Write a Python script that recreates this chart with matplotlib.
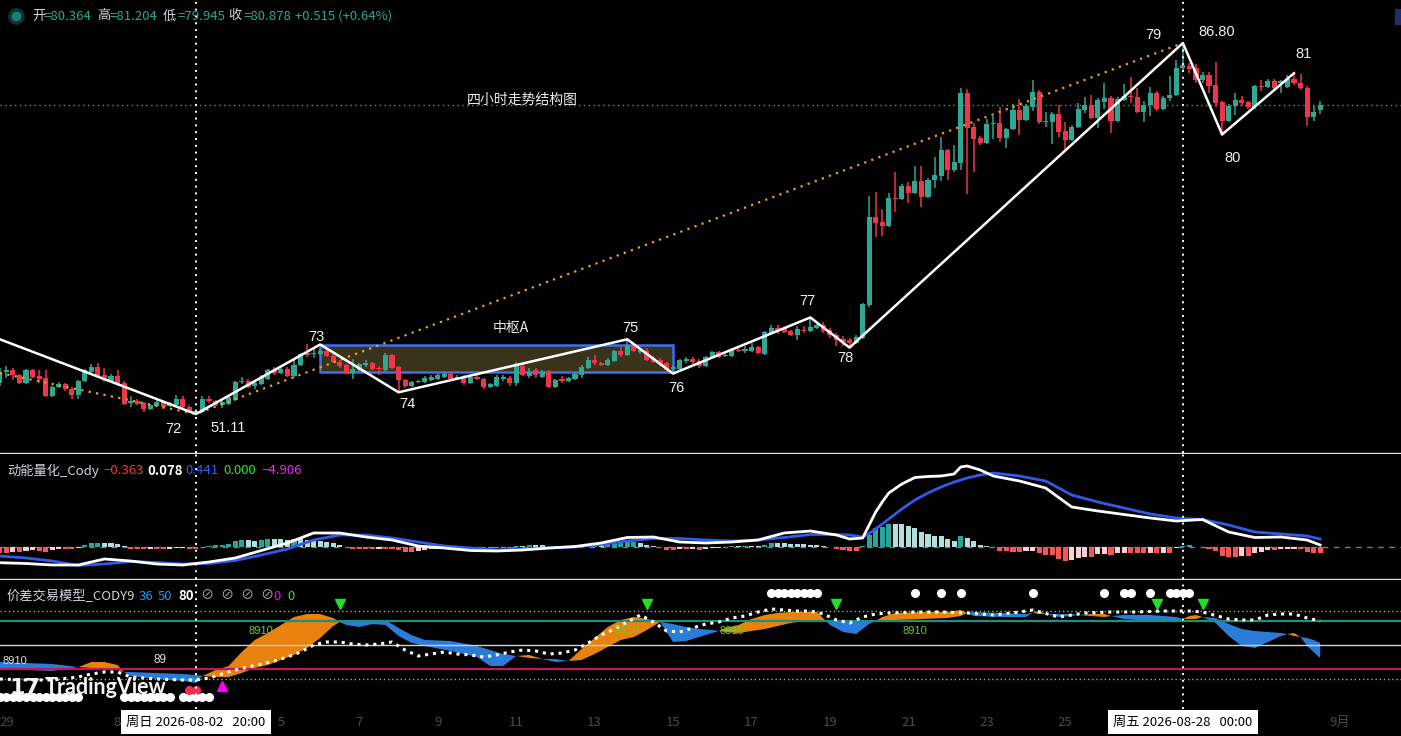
import numpy as np
import matplotlib
matplotlib.use("Agg")
import matplotlib.pyplot as plt
from matplotlib.patches import Rectangle

plt.rcParams['font.family'] = ['Noto Sans CJK SC', 'DejaVu Sans']

# 4h bars, bar 0 = 2026-07-29 00:00, first bar on screen is -1
first_bar = -1
opens = [54.1, 55.2, 55.3, 54.9, 54.1, 55.3, 54.8, 54.6, 52.8, 53.7,
         54.0, 53.5, 52.9, 54.3, 55.2, 55.6, 54.9, 54.3, 54.8, 54.1,
         52.2, 52.4, 52.2, 51.6, 51.9, 52.3, 51.9, 52.0, 52.6, 51.8,
         51.3, 51.3, 52.6, 52.4, 52.0, 52.1, 52.5, 54.2, 54.3, 53.8,
         54.0, 54.5, 55.3, 55.1, 55.4, 54.8, 55.8, 57.0, 56.9, 56.9,
         57.2, 56.7, 56.1, 55.8, 55.1, 55.3, 55.8, 56.0, 55.5, 55.3,
         56.8, 55.6, 54.4, 53.8, 54.2, 54.2, 54.4, 54.5, 54.7, 55.0,
         54.5, 54.7, 54.1, 54.7, 54.5, 53.7, 53.8, 54.5, 54.6, 54.1,
         55.7, 54.8, 55.3, 54.7, 55.2, 53.7, 54.5, 54.3, 54.5, 54.9,
         55.5, 56.3, 56.0, 55.8, 56.2, 57.2, 56.8, 57.7, 57.1, 57.2,
         56.5, 56.3, 56.0, 55.4, 55.4, 56.2, 56.4, 56.2, 55.7, 56.6,
         57.1, 56.7, 56.7, 57.3, 57.2, 57.2, 57.6, 56.9, 58.9, 59.4,
         59.4, 59.1, 58.7, 59.2, 59.1, 59.4, 59.7, 59.2, 58.7, 58.3,
         58.2, 57.9, 58.4, 61.6, 70.1, 69.6, 69.2, 71.9, 71.8, 73.0,
         72.4, 73.5, 72.0, 73.6, 74.0, 76.5, 74.6, 75.3, 82.0, 78.7,
         77.7, 77.2, 79.0, 79.1, 77.7, 78.5, 80.4, 79.4, 80.6, 82.1,
         79.2, 79.2, 80.0, 78.3, 77.5, 78.7, 80.4, 80.8, 79.6, 81.1,
         81.5, 79.3, 81.3, 81.7, 81.6, 80.2, 80.8, 82.0, 80.5, 81.5,
         81.8, 84.4, 84.6, 84.4, 83.2, 83.7, 82.8, 81.1, 79.3, 80.7,
         81.3, 81.1, 80.6, 82.7, 82.6, 83.1, 83.0, 82.6, 83.3, 83.0,
         82.5, 79.7, 80.364]
highs = [55.5, 55.7, 55.5, 55.0, 55.4, 55.4, 55.3, 55.3, 53.8, 54.2,
         54.1, 53.7, 54.4, 55.4, 55.9, 56.0, 55.5, 55.0, 55.3, 54.3,
         52.8, 52.6, 52.3, 52.1, 52.5, 52.5, 52.3, 52.9, 52.8, 52.0,
         51.6, 52.8, 52.8, 52.5, 52.6, 52.8, 54.3, 54.7, 54.5, 54.2,
         54.9, 55.4, 55.6, 55.5, 55.6, 56.3, 57.0, 57.8, 57.5, 57.4,
         57.5, 56.9, 56.3, 55.9, 56.4, 56.0, 56.3, 56.1, 55.7, 57.0,
         56.9, 55.7, 54.5, 54.3, 54.4, 54.8, 54.9, 55.1, 55.2, 55.2,
         54.9, 54.9, 54.9, 54.9, 54.6, 54.1, 54.9, 54.9, 54.8, 56.1,
         55.9, 55.5, 55.5, 55.3, 55.3, 54.5, 54.8, 54.7, 55.2, 55.8,
         56.6, 56.8, 56.1, 56.5, 57.3, 57.6, 58.3, 57.9, 57.5, 57.5,
         56.7, 56.5, 56.1, 55.8, 56.4, 56.6, 56.6, 56.4, 56.7, 57.2,
         57.2, 57.0, 57.5, 57.5, 57.7, 57.9, 57.7, 59.1, 59.7, 59.7,
         59.5, 59.2, 59.6, 59.6, 60.4, 59.9, 60.0, 59.4, 58.9, 58.6,
         58.4, 58.7, 61.8, 72.1, 72.5, 70.8, 72.4, 74.4, 73.2, 73.4,
         75.0, 75.0, 73.8, 75.8, 77.8, 76.6, 77.0, 82.5, 82.4, 79.1,
         77.9, 79.5, 79.8, 80.6, 78.6, 80.9, 81.4, 80.9, 83.2, 82.3,
         80.2, 80.2, 80.8, 79.2, 78.9, 81.0, 81.6, 81.8, 81.5, 83.0,
         81.7, 81.6, 82.9, 83.5, 82.5, 81.2, 82.6, 82.2, 81.7, 83.6,
         85.2, 86.8, 84.9, 84.8, 84.0, 84.0, 85.0, 81.2, 80.9, 82.0,
         81.7, 81.2, 82.8, 83.2, 83.3, 83.3, 83.2, 83.7, 83.9, 83.8,
         82.7, 80.7, 81.204]
lows = [53.8, 54.6, 54.4, 54.0, 54.0, 54.6, 54.1, 52.7, 52.7, 53.6,
        53.3, 52.6, 52.6, 54.2, 54.9, 54.7, 54.2, 54.2, 53.8, 52.0,
        51.8, 52.0, 51.3, 51.5, 51.8, 51.6, 51.8, 51.9, 51.7, 51.2,
        51.11, 51.2, 52.2, 51.9, 51.7, 52.0, 52.4, 54.0, 53.6, 53.5,
        53.9, 54.4, 54.9, 55.0, 54.7, 54.6, 55.7, 56.6, 56.5, 56.8,
        56.6, 56.0, 55.5, 55.0, 54.5, 55.2, 55.6, 55.3, 54.9, 55.2,
        55.4, 53.2, 53.6, 53.7, 54.1, 54.1, 54.3, 54.4, 54.6, 54.4,
        54.4, 53.9, 54.0, 54.4, 53.5, 53.6, 53.7, 54.3, 53.8, 53.8,
        54.8, 54.6, 54.6, 54.6, 53.6, 53.6, 54.1, 54.2, 54.4, 54.6,
        55.4, 55.8, 55.7, 55.7, 56.1, 56.6, 56.7, 57.1, 56.9, 56.2,
        56.0, 55.7, 55.2, 55.0, 55.3, 56.0, 55.9, 55.5, 55.6, 56.5,
        56.5, 56.6, 56.6, 57.1, 57.0, 57.1, 56.9, 56.8, 58.8, 58.8,
        58.9, 58.6, 58.2, 58.9, 59.0, 59.3, 58.9, 58.4, 57.7, 57.7,
        57.5, 57.8, 58.3, 61.4, 68.1, 68.2, 69.1, 70.5, 71.7, 71.4,
        72.3, 71.0, 71.9, 72.9, 73.5, 73.6, 74.4, 74.6, 72.3, 74.4,
        77.0, 77.1, 77.6, 77.3, 76.7, 78.4, 78.0, 79.3, 80.3, 79.0,
        78.7, 77.1, 77.8, 76.5, 77.4, 78.6, 80.1, 79.5, 78.6, 80.5,
        78.1, 79.2, 81.2, 81.0, 80.1, 79.2, 79.8, 80.3, 80.4, 81.2,
        81.7, 84.0, 83.9, 83.0, 83.0, 82.0, 80.6, 78.0, 79.2, 79.9,
        80.7, 80.5, 80.5, 82.2, 82.5, 82.3, 82.0, 82.5, 82.8, 82.3,
        78.8, 79.3, 79.945]
closes = [55.2, 55.3, 54.9, 54.1, 55.3, 54.7, 54.5, 52.8, 53.7, 54.0,
          53.5, 52.9, 54.3, 55.3, 55.6, 54.8, 54.4, 54.8, 54.0, 52.1,
          52.4, 52.1, 51.6, 52.0, 52.3, 51.8, 52.2, 52.6, 51.8, 51.3,
          51.4, 52.6, 52.4, 52.0, 52.3, 52.7, 54.2, 54.3, 53.7, 54.1,
          54.7, 55.3, 55.1, 55.4, 54.8, 55.8, 56.9, 56.8, 57.0, 57.2,
          56.7, 56.1, 55.7, 55.1, 55.4, 55.9, 56.0, 55.4, 55.4, 56.8,
          55.5, 54.4, 53.8, 54.2, 54.3, 54.6, 54.7, 54.9, 55.0, 54.5,
          54.7, 54.1, 54.7, 54.5, 53.7, 54.0, 54.7, 54.7, 54.1, 55.8,
          54.9, 55.2, 54.9, 55.2, 53.7, 54.4, 54.3, 54.6, 55.0, 55.6,
          56.3, 56.0, 55.8, 56.3, 57.2, 56.8, 57.7, 57.2, 57.3, 56.3,
          56.1, 55.9, 55.3, 55.6, 56.3, 56.4, 56.1, 55.7, 56.6, 57.1,
          56.6, 56.8, 57.3, 57.2, 57.4, 57.6, 57.0, 59.0, 59.4, 59.2,
          59.0, 58.7, 59.3, 59.1, 59.5, 59.7, 59.1, 58.7, 58.2, 58.0,
          57.9, 58.5, 61.7, 70.1, 69.5, 69.2, 71.9, 71.8, 73.0, 72.4,
          73.5, 72.0, 73.6, 74.1, 76.5, 74.6, 75.4, 82.0, 78.6, 77.6,
          77.2, 79.0, 79.1, 77.7, 78.5, 80.4, 79.4, 80.7, 82.1, 79.2,
          79.3, 80.0, 78.2, 77.5, 78.7, 80.5, 80.8, 79.6, 81.3, 81.5,
          79.3, 81.4, 81.7, 81.6, 80.2, 80.8, 82.0, 80.5, 81.5, 81.8,
          84.4, 84.7, 84.3, 83.2, 83.7, 82.7, 81.0, 79.3, 80.7, 81.3,
          81.0, 80.6, 82.7, 82.6, 83.1, 82.5, 83.1, 83.3, 83.0, 82.5,
          79.7, 80.2, 80.878]

# zigzag pivots (bar index, price)
pivot_k = [-1, 29, 48, 60, 95, 102, 123, 129, 180, 186, 197]
pivot_p = [58.3, 51.11, 57.8, 53.2, 58.3, 55.0, 60.4, 57.5, 86.8, 78.0, 83.9]
pivot_names = ['', '72', '73', '74', '75', '76', '77', '78', '79', '80', '81']
# larger degree trend (orange dotted)
trend_k = [-1, 29, 180]
trend_p = [55.05, 51.11, 86.8]
# 中枢A box
zs_k = [48, 102]
zs_p = [55.15, 57.75]

# momentum panel (动能量化_Cody)
hist = [-0.53, -0.53, -0.43, -0.43, -0.33, -0.27, -0.37, -0.43, -0.27, -0.2,
        -0.2, -0.2, -0.03, 0.23, 0.4, 0.43, 0.43, 0.43, 0.3, 0.1,
        -0.17, -0.2, -0.2, -0.17, -0.17, -0.2, -0.13, -0.07, -0.05, -0.13,
        -0.2, 0.07, 0.17, 0.2, 0.27, 0.33, 0.67, 0.73, 0.73, 0.67,
        0.73, 0.8, 0.8, 0.8, 0.73, 0.8, 0.8, 0.73, 0.73, 0.67,
        0.57, 0.47, 0.23, 0.0, -0.17, -0.17, -0.17, -0.17, -0.13, -0.17,
        -0.2, -0.27, -0.43, -0.43, -0.33, -0.27, -0.2, -0.17, -0.05, -0.03,
        -0.03, -0.02, -0.02, -0.03, -0.03, -0.1, -0.1, -0.1, -0.1, 0.17,
        0.17, 0.23, 0.23, 0.23, 0.03, 0.03, 0.02, 0.02, 0.03, 0.05,
        0.17, 0.23, 0.23, 0.3, 0.37, 0.43, 0.5, 0.57, 0.43, 0.23,
        0.13, 0.02, -0.23, -0.23, -0.2, -0.2, -0.13, -0.23, -0.13, -0.03,
        -0.02, 0.02, 0.13, 0.13, 0.17, 0.17, 0.13, 0.23, 0.43, 0.43,
        0.4, 0.33, 0.33, 0.33, 0.27, 0.23, 0.13, 0.03, -0.17, -0.23,
        -0.33, -0.33, 0.17, 1.23, 1.9, 2.07, 2.33, 2.33, 2.33, 2.13,
        1.9, 1.57, 1.33, 1.17, 1.13, 0.83, 0.67, 1.13, 0.93, 0.67,
        0.23, 0.13, 0.07, -0.33, -0.4, -0.43, -0.5, -0.4, -0.33, -0.6,
        -0.77, -0.77, -1.2, -1.33, -1.3, -1.1, -0.93, -0.93, -0.7, -0.67,
        -0.77, -0.6, -0.53, -0.53, -0.6, -0.6, -0.53, -0.6, -0.53, -0.53,
        -0.1, 0.13, 0.23, 0.07, 0.02, -0.2, -0.4, -0.87, -0.93, -0.93,
        -0.87, -0.87, -0.6, -0.43, -0.27, -0.27, -0.2, -0.17, -0.13, -0.17,
        -0.43, -0.6, -0.6]
macd_k = [-1, 3, 7, 11, 15, 19, 23, 27, 31, 35,
          39, 43, 47, 51, 55, 59, 63, 67, 71, 75,
          79, 83, 87, 91, 95, 99, 103, 107, 111, 115,
          119, 123, 127, 129, 131, 132, 133, 134, 135, 137,
          139, 141, 143, 145, 146, 147, 149, 151, 155, 159,
          163, 167, 171, 175, 179, 183, 187, 191, 195, 199, 201]
dif = [-1.54, -1.62, -1.77, -1.77, -1.17, -1.37, -1.67, -1.77, -1.47, -1.07,
       -0.32, 0.43, 1.43, 1.43, 1.03, 0.73, 0.13, -0.07, -0.32, -0.37,
       -0.27, -0.07, 0.08, 0.43, 0.98, 1.03, 0.53, 0.43, 0.53, 0.73,
       1.43, 1.63, 1.23, 0.83, 0.93, 2.23, 3.53, 4.53, 5.43, 6.33,
       6.98, 7.08, 7.13, 7.33, 8.03, 8.13, 7.73, 7.13, 6.63, 5.93,
       4.03, 3.63, 3.28, 2.93, 2.63, 2.78, 1.53, 0.98, 1.03, 0.73, 0.23]
dea = [-0.87, -1.07, -1.37, -1.82, -1.67, -1.42, -1.52, -1.67, -1.62, -1.32,
       -0.77, -0.17, 0.73, 1.23, 1.23, 0.93, 0.53, 0.13, -0.07, -0.27,
       -0.17, -0.07, 0.03, 0.28, 0.63, 0.88, 0.88, 0.73, 0.63, 0.73,
       0.98, 1.28, 1.28, 1.23, 1.03, 1.38, 1.83, 2.33, 2.83, 3.83,
       4.73, 5.43, 6.03, 6.53, 6.73, 6.93, 7.23, 7.43, 7.13, 6.63,
       5.23, 4.53, 3.93, 3.33, 2.93, 2.78, 2.23, 1.53, 1.33, 1.13, 0.83]

# spread model panel (价差交易模型_CODY9)
band_k = [-1, 3, 7, 11, 13, 15, 17, 18, 19, 23,
          27, 29, 30, 32, 34, 36, 38, 40, 42, 44,
          46, 48, 50, 51, 52, 54, 56, 58, 60, 62,
          64, 68, 72, 74, 76, 78, 80, 82, 84, 86,
          88, 90, 92, 94, 96, 98, 100, 102, 104, 106,
          108, 109, 110, 112, 114, 116, 118, 120, 122, 124,
          126, 128, 130, 132, 133, 134, 136, 140, 144, 146,
          147, 148, 152, 156, 157, 158, 159, 161, 163, 164,
          166, 168, 169, 171, 175, 179, 180, 181, 182, 183,
          185, 187, 189, 191, 193, 195, 196, 197, 198, 199,
          200, 201]
band_fast = [26, 25, 24, 28, 33, 33, 30, 23, 19, 16,
             14, 12, 19, 25, 29, 43, 55, 62, 70, 78,
             81, 81, 77, 73, 70, 68, 71, 70, 59, 52,
             49, 44, 38, 29, 29, 39, 40, 36, 33, 34,
             46, 57, 68, 75, 78, 76, 73, 53, 54, 58,
             62, 64, 67, 70, 76, 80, 82, 83, 83, 83,
             70, 63, 61, 71, 74, 78, 82, 83, 83, 85,
             82, 79, 78, 78, 82, 84, 81, 78, 79, 80,
             81, 81, 79, 76, 74, 73, 76, 79, 80, 78,
             72, 59, 49, 47, 53, 59, 61, 62, 58, 49,
             43, 37]
band_slow = [33, 32, 31, 28, 27, 26, 25, 23, 23, 22,
             21, 20, 19, 18, 18, 22, 27, 30, 35, 40,
             47, 57, 69, 73, 74, 73, 74, 75, 67, 60,
             55, 54, 49, 45, 41, 39, 37, 36, 36, 34,
             35, 41, 48, 55, 58, 65, 73, 71, 68, 66,
             65, 64, 63, 62, 64, 66, 69, 72, 74, 75,
             74, 73, 73, 74, 74, 74, 75, 76, 77, 79,
             82, 83, 82, 81, 82, 81, 81, 81, 81, 80,
             79, 78, 79, 80, 80, 78, 76, 76, 76, 78,
             77, 71, 66, 64, 63, 62, 61, 59, 58, 57,
             55, 52]
dot_k = [-1, 3, 7, 11, 13, 15, 17, 19, 23, 27] + list(range(29, 137, 2)) + \
        [139, 143, 147, 151, 155, 157, 161, 165, 169, 173,
         177, 181, 183, 187, 189, 191, 193, 195, 197, 199, 201]
dot_v = [16, 15, 15, 18, 21, 23, 23, 18, 16, 15,
         15, 17, 21, 25, 28, 31, 34, 38, 43, 50,
         53, 53, 51, 50, 51, 53, 45, 39, 41, 43,
         41, 40, 38, 40, 43, 45, 44, 41, 42, 45,
         52, 60, 66, 73, 80, 73, 64, 63, 67, 71,
         73, 77, 79, 83, 86, 85, 84, 84, 81, 75,
         72, 78, 81, 82,
         83, 83, 82, 80, 83, 85, 78, 82, 83, 83,
         84, 84, 83, 76, 75, 75, 80, 81, 81, 77, 74]
levels = [84, 74, 50, 26, 16]
sell_k = [51, 98, 127, 176, 183]
buy_k = [33]
top_dots_k = [117, 118, 119, 120, 121, 122, 123, 124, 139, 143, 146, 157,
              168, 171, 172, 175, 178, 179, 180, 181]
low_dots_k = list(range(-1, 12)) + list(range(18, 26)) + list(range(27, 32))
red_dots_k = [28, 29]
sig_k = [39, 95, 111, 139]

# day labels (days after 07-29); 08-03 and 08-27 sit under the crosshair boxes
tick_days = [0, 3, 7, 9, 11, 13, 15, 17, 19, 21, 23, 25, 27, 34]
tick_text = ['29', '8月', '5', '7', '9', '11', '13', '15', '17', '19',
             '21', '23', '25', '9月']
cross_k = [29, 180]
cross_text = ['周日 2026-08-02   20:00', '周五 2026-08-28   00:00']

GREEN = '#31a693'
RED = '#f0344a'
W, H = 1401, 736


def fx(px):
    return px / W


def fy(py):
    return 1 - py / H


fig = plt.figure(figsize=(W / 100, H / 100), dpi=100, facecolor='black')
ax1 = fig.add_axes([0, fy(453), 1, 453 / H])
ax2 = fig.add_axes([0, fy(579), 1, 125 / H])
ax3 = fig.add_axes([0, 0, 1, fy(580)])
for ax in (ax1, ax2, ax3):
    ax.set_facecolor('black')
    ax.set_xlim(-0.98, 213.37)
    ax.set_xticks([])
    ax.set_yticks([])
    for s in ax.spines.values():
        s.set_visible(False)
for ax in (ax1, ax2):
    ax.spines['bottom'].set_visible(True)
    ax.spines['bottom'].set_color('#dcdcdc')
    ax.spines['bottom'].set_linewidth(1)
ax1.set_ylim(47.36, 90.94)
ax2.set_ylim(-3.17, 9.33)
ax3.set_ylim(-41, 115)

# ---- main chart ----
ks = np.arange(first_bar, first_bar + len(closes))
o = np.array(opens)
c = np.array(closes)
hi = np.array(highs)
lo = np.array(lows)
cols = np.where(c >= o, GREEN, RED)
ax1.vlines(ks, lo, hi, colors=cols, lw=1.1, zorder=3)
ax1.bar(ks, np.maximum(np.abs(c - o), 0.1), 0.78, bottom=np.minimum(o, c),
        color=cols, lw=0, zorder=4)

ax1.add_patch(Rectangle((zs_k[0], zs_p[0]), zs_k[1] - zs_k[0], zs_p[1] - zs_p[0],
                        fc='#38331a', ec='#3d6ff0', lw=1.8, zorder=2))
ax1.text(77.2, 59.4, '中枢A', color='#e6e6e6', fontsize=10,
         ha='center', va='center', zorder=9)

ax1.plot(trend_k, trend_p, color='#f5a01c', lw=1.6, ls=(0, (1, 2.4)), zorder=5)
ax1.plot(pivot_k, pivot_p, color='white', lw=1.8, zorder=6)
ax1.axhline(c[-1], color=GREEN, lw=1, ls=(0, (1, 2.5)), zorder=1)

offsets = {'72': (-23, -15), '73': (-4, 7), '74': (9, -12), '75': (3, 11),
           '76': (3, -14), '77': (-3, 16), '78': (-4, -10), '79': (-30, 8),
           '80': (10, -23), '81': (9, 19)}
lab = dict(color='#f0f0f0', fontsize=10.5, family='Liberation Sans',
           ha='center', va='center', textcoords='offset pixels', zorder=9)
for k, p, name in zip(pivot_k, pivot_p, pivot_names):
    if name:
        ax1.annotate(name, (k, p), xytext=offsets[name], **lab)
i_lo = int(np.argmin(lo))
i_hi = int(np.argmax(hi))
ax1.annotate(f'{lo[i_lo]:.2f}', (ks[i_lo], lo[i_lo]), xytext=(32, -14), **lab)
ax1.annotate(f'{hi[i_hi]:.2f}', (ks[i_hi], hi[i_hi]), xytext=(34, 11), **lab)
fig.text(fx(522), fy(100), '四小时走势结构图', color='#ececec', fontsize=10,
         ha='center', va='center')

# header
ax1.plot([fx(15.5)], [1 - 16 / 453], 'o', ms=11, color='#10332d',
         transform=ax1.transAxes, zorder=9)
ax1.plot([fx(15.5)], [1 - 16 / 453], 'o', ms=6, color='#1c7d6c',
         transform=ax1.transAxes, zorder=10)
head = [(32, '开', '#d1d4dc'), (43, '=80.364', '#22ab94'),
        (97, '高', '#d1d4dc'), (110, '=81.204', '#22ab94'),
        (163, '低', '#d1d4dc'), (177, '=79.945', '#22ab94'),
        (228, '收', '#d1d4dc'), (243, '=80.878', '#22ab94'),
        (295, '+0.515 (+0.64%)', '#22ab94')]
for x, t, col in head:
    fig.text(fx(x), fy(16), t, color=col, fontsize=9.5, ha='left', va='center')
fig.patches.append(Rectangle((fx(1395), fy(25)), fx(6), 16 / H, fc='#1d2f6b',
                             transform=fig.transFigure, figure=fig))

# ---- momentum panel ----
hv = np.array(hist)
prev = np.concatenate([[hv[0]], hv[:-1]])
hcols = np.where(hv >= 0, np.where(hv > prev, '#26a69a', '#b2dfdb'),
                 np.where(hv > prev, '#ffcdd2', '#ff5252'))
ax2.axhline(0, color='#787b86', lw=1, ls=(0, (4, 4)), zorder=1)
ax2.bar(ks, hv, 0.78, color=hcols, lw=0, zorder=2)
ax2.plot(macd_k, dea, color='#2f5bea', lw=2, zorder=3)
ax2.plot(macd_k, dif, color='white', lw=2, zorder=4)
m_head = [(7, '动能量化_Cody', '#d1d4dc', 'normal'), (103, '−0.363', '#f23645', 'normal'),
          (147, '0.078', '#ffffff', 'bold'), (185, '0.441', '#2962ff', 'normal'),
          (223, '0.000', '#2ee52e', 'normal'), (262, '−4.906', '#ea2cf0', 'normal')]
for x, t, col, wt in m_head:
    fig.text(fx(x), fy(471), t, color=col, fontsize=9.5, ha='left', va='center',
             fontweight=wt)

# ---- spread model panel ----
bk = np.array(band_k, dtype=float)
bf = np.array(band_fast, dtype=float)
bs = np.array(band_slow, dtype=float)
ax3.fill_between(bk, bf, bs, where=bf >= bs, interpolate=True, color='#e8820c',
                 lw=0, zorder=3)
ax3.fill_between(bk, bf, bs, where=bf <= bs, interpolate=True, color='#2b7bd9',
                 lw=0, zorder=3)
lv_style = [('#76d42b', 1, (0, (1, 2))), ('#1f8f7d', 1.6, '-'), ('#d0d0d0', 1, '-'),
            ('#c2185b', 1.6, '-'), ('#76d42b', 1, (0, (1, 2)))]
for v, (col, lw, ls) in zip(levels, lv_style):
    ax3.axhline(v, color=col, lw=lw, ls=ls, zorder=4)
ax3.plot(dot_k, dot_v, color='white', lw=2.2, ls=(0, (1, 1.6)), zorder=5)
ax3.plot(sell_k, [91] * len(sell_k), 'v', ms=6.5, color='#22e022', zorder=6)
ax3.plot(buy_k, [9] * len(buy_k), '^', ms=7, color='#ff00ff', zorder=6)
ax3.plot(top_dots_k, [102] * len(top_dots_k), 'o', ms=5.5, color='white', zorder=6)
ax3.plot(low_dots_k, [-2] * len(low_dots_k), 'o', ms=5.5, color='white', zorder=6)
ax3.plot(red_dots_k, [5] * len(red_dots_k), 'o', ms=5.5, color='#f03050', zorder=6)
for k in sig_k:
    ax3.text(k, 64, '8910', color='#5ed12e', fontsize=8, family='Liberation Sans',
             ha='center', va='center', zorder=7)
ax3.text(1.3, 34, '8910', color='#e0e0e0', fontsize=8, family='Liberation Sans',
         ha='center', va='center', zorder=7)
ax3.text(23.5, 35, '89', color='#e0e0e0', fontsize=8.5, family='Liberation Sans',
         ha='center', va='center', zorder=7)
b_head = [(7, '价差交易模型_CODY9', '#d1d4dc', 'normal'), (139, '36', '#2196f3', 'normal'),
          (158, '50', '#2196f3', 'normal'), (178, '80', '#ffffff', 'bold'),
          (200, '⊘', '#b0b3bb', 'normal'), (220, '⊘', '#b0b3bb', 'normal'),
          (240, '⊘', '#b0b3bb', 'normal'), (260, '⊘', '#b0b3bb', 'normal'),
          (273, '0', '#ff00ff', 'normal'), (287, '0', '#2ee52e', 'normal')]
for x, t, col, wt in b_head:
    fig.text(fx(x), fy(596), t, color=col, fontsize=9.5, ha='left', va='center',
             fontweight=wt)

# watermark
fig.text(fx(9), fy(688), '17', color='#f2f2f2', fontsize=16, fontweight='bold',
         family='DejaVu Sans', ha='left', va='center', zorder=20)
fig.text(fx(45), fy(688), 'TradingView', color='#f2f2f2', fontsize=15.5,
         fontweight='bold', family='Lato', ha='left', va='center', zorder=20)

# crosshairs
for k in cross_k:
    ax1.axvline(k, color='white', lw=1.4, ls=(0, (1, 2.5)), zorder=8)
    ax2.axvline(k, color='white', lw=1.4, ls=(0, (1, 2.5)), zorder=8)
    ax3.vlines(k, -14, 115, color='white', lw=1.4, ls=(0, (1, 2.5)), zorder=8)

# time axis
for d, t in zip(tick_days, tick_text):
    ax3.text(6 * d, -27, t, color='#4a4c53', fontsize=9.5, ha='center', va='center',
             zorder=9)
for k, t in zip(cross_k, cross_text):
    ax3.text(k, -27, t, color='black', fontsize=9.5, ha='center', va='center', zorder=12,
             bbox=dict(boxstyle='square,pad=0.4', fc='white', ec='none'))

fig.savefig('out.png', dpi=100, facecolor='black')
